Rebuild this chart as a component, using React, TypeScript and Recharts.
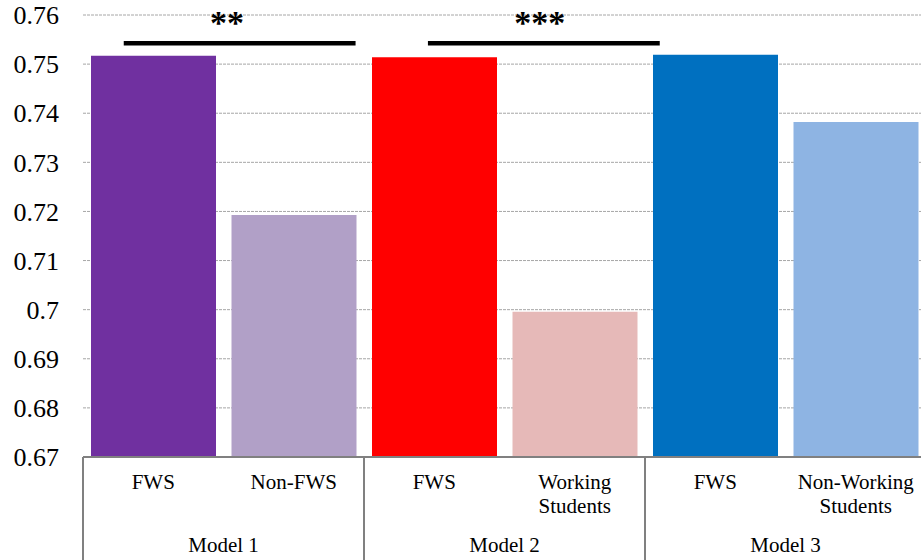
import React from 'react';
import {
  BarChart,
  Bar,
  Cell,
  XAxis,
  YAxis,
  CartesianGrid,
  ReferenceLine
} from 'recharts';

const categories = ['FWS', 'Non-FWS', 'FWS', 'Working Students', 'FWS', 'Non-Working Students'];
const groups = ['Model 1', 'Model 1', 'Model 2', 'Model 2', 'Model 3', 'Model 3'];
const values = [0.7517, 0.7193, 0.7514, 0.6996, 0.7519, 0.7382];
const colors = ['#7030A0', '#B1A0C7', '#FF0000', '#E6B9B8', '#0070C0', '#8EB4E3'];
const yTicks = [0.67, 0.68, 0.69, 0.7, 0.71, 0.72, 0.73, 0.74, 0.75, 0.76];

// significance brackets, x in category units (0 = left edge of plot, 6 = right edge)
const sigLines = [
  { x1: 0.29, x2: 1.94, y: 0.75424 },
  { x1: 2.455, x2: 4.105, y: 0.75424 }
];
const sigMarks = [
  { x: 1.025, y: 0.7562, text: '**' },
  { x: 3.25, y: 0.7562, text: '***' }
];
const N_CAT = categories.length;

const data = categories.map((c, i) => ({
  name: c,
  group: groups[i],
  value: values[i]
}));

const FONT = "'Liberation Serif', 'Times New Roman', serif";
const AXIS_GREY = '#808080';

// wrap multi-word labels like Excel does
const splitLabel = (s: string) => (s.includes(' ') ? s.split(' ') : [s]);

const CategoryTick = (props: any) => {
  const { x, y, payload, index } = props;
  const half = payload && payload.offset ? payload.offset : 70.25;
  const lines = splitLabel(categories[index]);
  const firstInGroup = index === 0 || groups[index] !== groups[index - 1];
  return (
    <g>
      {lines.map((l, i) => (
        <text
          key={i}
          x={x}
          y={y + 32 + i * 24}
          textAnchor="middle"
          fontFamily={FONT}
          fontSize={21}
          fill="#000"
        >
          {l}
        </text>
      ))}
      {firstInGroup && (
        <>
          <line x1={x - half} y1={y} x2={x - half} y2={y + 110} stroke={AXIS_GREY} strokeWidth={2} />
          <text
            x={x + half}
            y={y + 95}
            textAnchor="middle"
            fontFamily={FONT}
            fontSize={21}
            fill="#000"
          >
            {groups[index]}
          </text>
        </>
      )}
      {index === groups.length - 1 && (
        <line x1={x + half} y1={y} x2={x + half} y2={y + 110} stroke={AXIS_GREY} strokeWidth={2} />
      )}
    </g>
  );
};

// horizontal reference line spans the plot; place marks by fraction of its width
const atFrac = (p: any, f: number) => p.x1 + ((p.x2 - p.x1) * f) / N_CAT;

const App: React.FC = () => {
  return (
    <div style={{ position: 'absolute', left: 0, top: 0, width: 921, height: 560, overflow: 'hidden', background: '#fff' }}>
      <BarChart
        width={930}
        height={560}
        data={data}
        margin={{ top: 15, right: 4, bottom: 0, left: 0 }}
        barCategoryGap={8}
      >
        <CartesianGrid vertical={false} stroke="#a6a6a6" strokeDasharray="3 1" />
        <XAxis
          dataKey="name"
          interval={0}
          height={103}
          tickSize={0}
          tickMargin={0}
          tickLine={false}
          axisLine={{ stroke: AXIS_GREY, strokeWidth: 2 }}
          tick={<CategoryTick />}
        />
        <YAxis
          type="number"
          domain={[0.67, 0.76]}
          ticks={yTicks}
          allowDataOverflow
          width={83}
          axisLine={false}
          tickLine={false}
          tickSize={0}
          tickMargin={24}
          tick={{ fontFamily: FONT, fontSize: 26, fill: '#000' }}
        />
        <Bar dataKey="value" isAnimationActive={false}>
          {data.map((d, i) => (
            <Cell key={i} fill={colors[i]} />
          ))}
        </Bar>
        {sigLines.map((s, i) => (
          <ReferenceLine
            key={'l' + i}
            y={s.y}
            stroke="#000"
            strokeWidth={4.5}
            shape={(p: any) => (
              <line
                x1={atFrac(p, s.x1)}
                x2={atFrac(p, s.x2)}
                y1={p.y1}
                y2={p.y2}
                stroke="#000"
                strokeWidth={4.5}
              />
            )}
          />
        ))}
        {sigMarks.map((m, i) => (
          <ReferenceLine
            key={'m' + i}
            y={m.y}
            shape={(p: any) => (
              <text
                x={atFrac(p, m.x)}
                y={p.y1}
                textAnchor="middle"
                fontFamily={FONT}
                fontWeight="bold"
                fontSize={34}
                fill="#000"
              >
                {m.text}
              </text>
            )}
          />
        ))}
      </BarChart>
    </div>
  );
};

export default App;
